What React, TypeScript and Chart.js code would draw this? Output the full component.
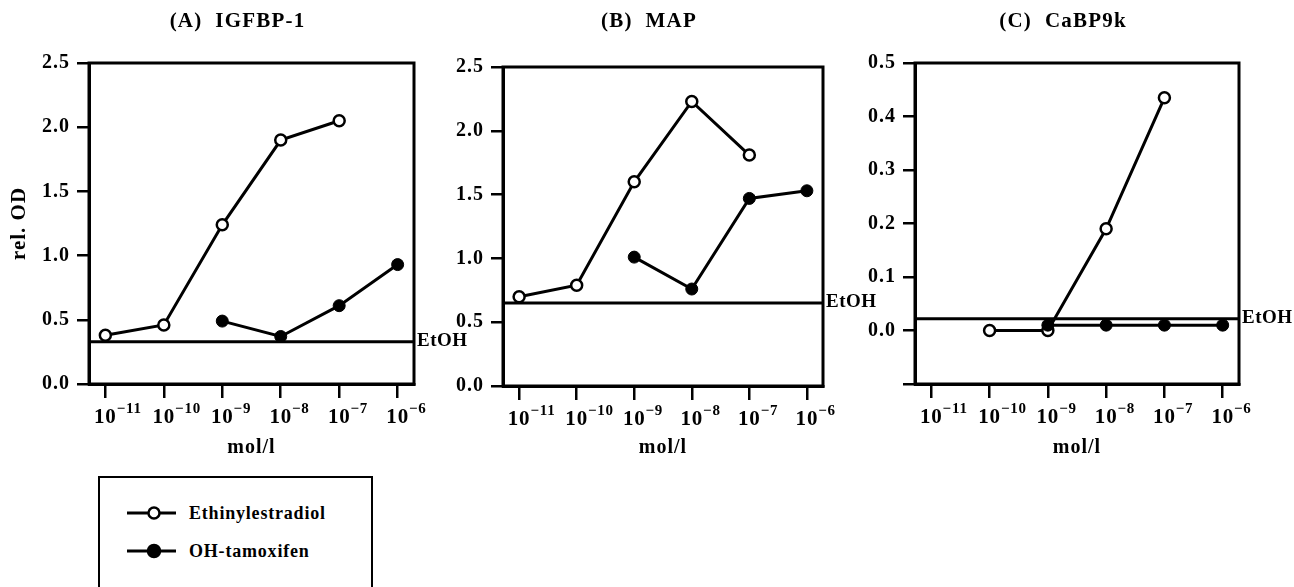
import React, { useEffect, useRef } from "react";
import { Chart, registerables } from "chart.js";

Chart.register(...registerables);

// ---------- data ----------
const exponents = [-11, -10, -9, -8, -7, -6];
const concentrations = exponents.map((e) => Math.pow(10, e));
const seriesNames = ["Ethinylestradiol", "OH-tamoxifen"];
const panelTitles = ["(A)  IGFBP-1", "(B)  MAP", "(C)  CaBP9k"];
const xAxisTitle = "mol/l";
const yAxisTitle = "rel. OD";
const refLabel = "EtOH";

const igfbpEthinyl = [0.38, 0.46, 1.24, 1.9, 2.05, null];
const igfbpTamoxifen = [null, null, 0.49, 0.37, 0.61, 0.93];
const mapEthinyl = [0.7, 0.79, 1.6, 2.23, 1.81, null];
const mapTamoxifen = [null, null, 1.01, 0.76, 1.47, 1.53];
const cabpEthinyl = [null, 0.0, 0.0, 0.19, 0.435, null];
const cabpTamoxifen = [null, null, 0.01, 0.01, 0.01, 0.01];
const etohLevels = [0.33, 0.65, 0.022];

const yTicksAB = [0, 0.5, 1.0, 1.5, 2.0, 2.5];
const yTicksC = [-0.1, 0, 0.1, 0.2, 0.3, 0.4, 0.5];
const yLabelledMinC = 0;

const xMinExp = -11.28;
const xMaxExp = -5.72;

// ---------- layout / style ----------
const FONT = "'Liberation Serif', 'Times New Roman', serif";
const CANVAS_H = 470;

const panels = [
  {
    title: panelTitles[0], open: igfbpEthinyl, filled: igfbpTamoxifen, etoh: etohLevels[0],
    yMin: 0, yMax: 2.5, yTicks: yTicksAB, yLabelMin: 0, showYTitle: true,
    left: 0, width: 480, yWidth: 89, padRight: 66, padTop: 63, xHeight: 86,
  },
  {
    title: panelTitles[1], open: mapEthinyl, filled: mapTamoxifen, etoh: etohLevels[1],
    yMin: 0, yMax: 2.5, yTicks: yTicksAB, yLabelMin: 0, showYTitle: false,
    left: 430, width: 480, yWidth: 73, padRight: 87, padTop: 67, xHeight: 84,
  },
  {
    title: panelTitles[2], open: cabpEthinyl, filled: cabpTamoxifen, etoh: etohLevels[2],
    yMin: -0.1, yMax: 0.5, yTicks: yTicksC, yLabelMin: yLabelledMinC, showYTitle: false,
    left: 860, width: 434, yWidth: 55, padRight: 55, padTop: 63, xHeight: 86,
  },
];

const framePlugin = {
  id: "frame",
  beforeDraw(chart: any) {
    (chart.ctx as any).letterSpacing = "1px";
  },
  beforeDatasetsDraw(chart: any, _args: any, opts: any) {
    const { ctx, chartArea } = chart;
    const { left, right, top, bottom } = chartArea;
    const y = chart.scales.y;
    const x = chart.scales.x;
    ctx.save();
    ctx.strokeStyle = "#000";
    ctx.lineWidth = 3;
    ctx.strokeRect(left, top, right - left, bottom - top);

    // EtOH reference line
    const yy = y.getPixelForValue(opts.etoh);
    ctx.beginPath();
    ctx.moveTo(left, yy);
    ctx.lineTo(right, yy);
    ctx.stroke();
    ctx.fillStyle = "#000";
    (ctx as any).letterSpacing = "0.5px";
    ctx.font = `bold 19px ${FONT}`;
    ctx.textAlign = "left";
    ctx.textBaseline = "middle";
    ctx.fillText(refLabel, right + 3, yy - 1);

    // panel title
    (ctx as any).letterSpacing = "1.2px";
    ctx.font = `bold 21px ${FONT}`;
    ctx.textAlign = "center";
    ctx.fillText(opts.title, (left + right) / 2 - 14, 22);

    // x tick labels 10^n
    (ctx as any).letterSpacing = "0.8px";
    exponents.forEach((e) => {
      const px = x.getPixelForValue(Math.pow(10, e));
      ctx.font = `bold 21px ${FONT}`;
      ctx.textAlign = "center";
      ctx.textBaseline = "alphabetic";
      const w = ctx.measureText("10").width;
      ctx.fillText("10", px, bottom + 39);
      ctx.font = `bold 15px ${FONT}`;
      ctx.textAlign = "left";
      ctx.fillText("\u2212" + String(Math.abs(e)), px + w / 2, bottom + 29);
    });
    ctx.restore();
  },
};

function Panel({ cfg }: { cfg: any }) {
  const ref = useRef<HTMLCanvasElement | null>(null);
  useEffect(() => {
    const font = { family: FONT, size: 20, weight: "bold" as const };
    const chart = new Chart(ref.current as HTMLCanvasElement, {
      type: "line",
      data: {
        datasets: [
          {
            label: seriesNames[0],
            data: concentrations.map((c, i) => ({ x: c, y: cfg.open[i] })),
            borderColor: "#000",
            borderWidth: 3,
            pointRadius: 5.5,
            pointBackgroundColor: "#fff",
            pointBorderColor: "#000",
            pointBorderWidth: 2.5,
            spanGaps: false,
            order: 1,
          },
          {
            label: seriesNames[1],
            data: concentrations.map((c, i) => ({ x: c, y: cfg.filled[i] })),
            borderColor: "#000",
            borderWidth: 3,
            pointRadius: 6,
            pointBackgroundColor: "#000",
            pointBorderColor: "#000",
            pointBorderWidth: 1,
            spanGaps: false,
            order: 0,
          },
        ],
      },
      options: {
        responsive: false,
        maintainAspectRatio: false,
        animation: false,
        layout: { padding: { top: cfg.padTop, right: cfg.padRight, bottom: 0, left: 0 } },
        plugins: {
          legend: { display: false },
          tooltip: { enabled: false },
          frame: { etoh: cfg.etoh, title: cfg.title },
        } as any,
        scales: {
          x: {
            type: "logarithmic",
            min: Math.pow(10, xMinExp),
            max: Math.pow(10, xMaxExp),
            afterBuildTicks: (s: any) => {
              s.ticks = concentrations.map((v) => ({ value: v }));
            },
            afterFit: (s: any) => {
              s.height = cfg.xHeight;
            },
            ticks: { callback: () => "", autoSkip: false, maxRotation: 0 },
            grid: { drawOnChartArea: false, drawTicks: true, tickLength: 14, color: "#000", lineWidth: 2.5 },
            border: { display: true, color: "#000", width: 3 },
            title: { display: true, text: xAxisTitle, color: "#000", font, padding: { top: 0, bottom: 10 } },
          },
          y: {
            type: "linear",
            min: cfg.yMin,
            max: cfg.yMax,
            afterBuildTicks: (s: any) => {
              s.ticks = cfg.yTicks.map((v: number) => ({ value: v }));
            },
            afterFit: (s: any) => {
              s.width = cfg.yWidth;
            },
            ticks: {
              autoSkip: false,
              color: "#000",
              font,
              padding: 7,
              callback: (v: any) => (Number(v) < cfg.yLabelMin - 1e-9 ? "" : Number(v).toFixed(1)),
            },
            grid: { drawOnChartArea: false, drawTicks: true, tickLength: 12, color: "#000", lineWidth: 2.5 },
            border: { display: true, color: "#000", width: 3 },
            title: {
              display: cfg.showYTitle,
              text: yAxisTitle,
              color: "#000",
              font: { family: FONT, size: 21, weight: "bold" as const },
              padding: { top: 7, bottom: 0 },
            },
          },
        },
      },
      plugins: [framePlugin],
    });
    return () => chart.destroy();
  }, []);
  return (
    <canvas
      ref={ref}
      width={cfg.width}
      height={CANVAS_H}
      style={{ position: "absolute", left: cfg.left, top: 0, width: cfg.width, height: CANVAS_H }}
    />
  );
}

function LegendRow({ name, filled, top }: { name: string; filled: boolean; top: number }) {
  return (
    <>
      <svg
        width={54}
        height={20}
        style={{ position: "absolute", left: 125, top: top - 10 }}
      >
        <line x1={2} y1={10} x2={51} y2={10} stroke="#000" strokeWidth={3} />
        <circle cx={29} cy={10} r={filled ? 6 : 5.5} fill={filled ? "#000" : "#fff"} stroke="#000" strokeWidth={2.5} />
      </svg>
      <div
        style={{
          position: "absolute",
          left: 189,
          top: top - 12,
          height: 24,
          lineHeight: "24px",
          fontFamily: FONT,
          fontWeight: "bold",
          fontSize: 18,
          letterSpacing: "0.8px",
          color: "#000",
          whiteSpace: "nowrap",
        }}
      >
        {name}
      </div>
    </>
  );
}

export default function App() {
  return (
    <div
      style={{
        position: "absolute",
        left: 0,
        top: 0,
        width: 1294,
        height: 587,
        overflow: "hidden",
        background: "#fff",
      }}
    >
      {panels.map((p, i) => (
        <Panel key={i} cfg={p} />
      ))}
      <div
        style={{
          position: "absolute",
          left: 98,
          top: 476,
          width: 275,
          height: 140,
          border: "2.5px solid #000",
          boxSizing: "border-box",
        }}
      />
      <LegendRow name={seriesNames[0]} filled={false} top={513} />
      <LegendRow name={seriesNames[1]} filled={true} top={551} />
    </div>
  );
}
